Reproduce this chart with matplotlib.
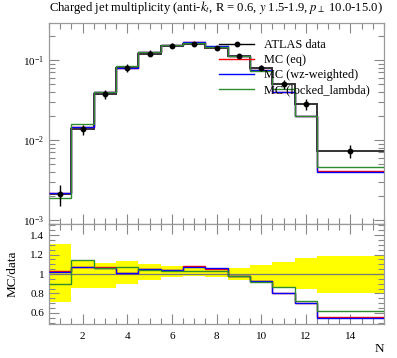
import numpy as np
import matplotlib
matplotlib.use("Agg")
import matplotlib.pyplot as plt
from matplotlib.ticker import LogLocator, MultipleLocator, NullFormatter, FixedLocator
from matplotlib.lines import Line2D

plt.rcParams['font.family'] = ['Liberation Serif', 'DejaVu Serif']
plt.rcParams['mathtext.fontset'] = 'stix'

# ---- data ----
bin_edges = [0.5, 1.5, 2.5, 3.5, 4.5, 5.5, 6.5, 7.5, 8.5, 9.5, 10.5, 11.5, 12.5, 15.5]
data_x = [1, 2, 3, 4, 5, 6, 7, 8, 9, 10, 11, 12, 14]
data_y = [2.11e-3, 0.0137, 0.0376, 0.0787, 0.120, 0.150, 0.157, 0.140, 0.113, 0.080, 0.050, 0.0279, 0.00735]
data_err_up = [6.4e-4, 1.78e-3, 4.1e-3, 0.0107, 0.012, 0.01155, 0.0118, 0.0084, 0.00655, 0.00736, 0.00615, 0.00446, 0.00138]
data_err_dn = [6.1e-4, 2.0e-3, 5.5e-3, 7.9e-3, 7.8e-3, 5.3e-3, 3.1e-3, 3.8e-3, 6.8e-3, 6.0e-3, 6.8e-3, 4.3e-3, 1.47e-3]

mc_eq = [2.173e-3, 0.01473, 0.04016, 0.07949, 0.126, 0.1562, 0.1694, 0.147, 0.1111, 0.07424, 0.04025, 0.0197, 0.00408]
mc_wz = [2.152e-3, 0.01466, 0.04004, 0.07949, 0.126, 0.1562, 0.1677, 0.1481, 0.1111, 0.07456, 0.04025, 0.0197, 0.00401]
mc_locked = [1.899e-3, 0.01571, 0.04004, 0.08405, 0.1244, 0.1551, 0.1623, 0.1439, 0.1111, 0.0736, 0.0432, 0.02009, 0.00459]

labels = ['ATLAS data', 'MC (eq)', 'MC (wz-weighted)', 'MC (locked_lambda)']
colors = ['red', 'blue', '#2e8b2e']

title = r'Charged jet multiplicity (anti-$k_t$, R = 0.6, $y$ 1.5-1.9, $p_\perp$ 10.0-15.0)'

# ---- figure ----
W, H = 397, 358
fig = plt.figure(figsize=(W / 100, H / 100), dpi=100)
L, R = 49 / W, 384 / W
ax = fig.add_axes([L, 1 - 224 / H, R - L, (224 - 23) / H])
rax = fig.add_axes([L, 1 - 324 / H, R - L, (324 - 224) / H], sharex=ax)

edges = np.array(bin_edges)
dy = np.array(data_y)
eu = np.array(data_err_up)
ed = np.array(data_err_dn)

# main
ax.stairs(dy, edges, baseline=None, color='#333333', lw=1.4, zorder=2)
ax.errorbar(data_x, dy, yerr=[ed, eu], fmt='o', color='black', ms=3.2, elinewidth=1.0, capsize=0, zorder=5)
for vals, c in zip([mc_eq, mc_wz, mc_locked], colors):
    ax.stairs(vals, edges, baseline=None, color=c, lw=1.0, zorder=3)

ax.set_yscale('log')
ax.set_xlim(0.5, 15.5)
ax.set_ylim(10 ** -3.05, 10 ** -0.5375)
ax.text(0.0, 1.035, title, transform=ax.transAxes, fontsize=9.1, ha='left', va='bottom')

handles = [Line2D([], [], color='black', marker='o', ms=3.2, lw=1.0)] + \
          [Line2D([], [], color=c, lw=1.0) for c in colors]
ax.legend(handles, labels, loc='upper left', bbox_to_anchor=(0.507, 0.92), frameon=False,
          fontsize=8.8, handlelength=2.9, handletextpad=0.8, labelspacing=0.25, borderpad=0,
          borderaxespad=0)

# ratio
up = 1 + eu / dy
dn = 1 - ed / dy
rax.stairs(up, edges, baseline=dn, fill=True, color='#ffff00', lw=0, zorder=1)
rax.axhline(1.0, color='#777777', lw=0.9, zorder=2)
for vals, c in zip([mc_eq, mc_wz, mc_locked], colors):
    rax.stairs(np.array(vals) / dy, edges, baseline=None, color=c, lw=1.0, zorder=3)
rax.set_ylim(0.487, 1.513)
rax.set_ylabel('MC/data', fontsize=9.5)
rax.yaxis.set_label_coords(-0.09, 0.5)
rax.set_xlabel('N', fontsize=9.5)
rax.xaxis.set_label_coords(1.0, -0.19)
rax.xaxis.label.set_horizontalalignment('right')

# ticks
for a in (ax, rax):
    a.tick_params(which='both', direction='in', top=True, right=True, colors='#888888',
                  labelcolor='black', labelsize=8)
    a.tick_params(which='major', length=7, width=0.8)
    a.tick_params(which='minor', length=4, width=0.8)
    for s in a.spines.values():
        s.set_color('#999999')
        s.set_linewidth(0.9)
    a.xaxis.set_major_locator(MultipleLocator(2))
    a.xaxis.set_minor_locator(MultipleLocator(0.5))

rax.tick_params(axis='x', which='major', pad=6)

ax.yaxis.set_major_locator(LogLocator(base=10, numticks=10))
ax.yaxis.set_minor_locator(LogLocator(base=10, subs=np.arange(2, 10), numticks=10))
ax.yaxis.set_minor_formatter(NullFormatter())
ax.tick_params(labelbottom=False)

rax.yaxis.set_major_locator(FixedLocator([0.6, 0.8, 1.0, 1.2, 1.4]))
rax.yaxis.set_major_formatter(matplotlib.ticker.FuncFormatter(lambda v, p: ('%g' % v)))
rax.yaxis.set_minor_locator(MultipleLocator(0.05))

fig.savefig('out.png', dpi=100)
